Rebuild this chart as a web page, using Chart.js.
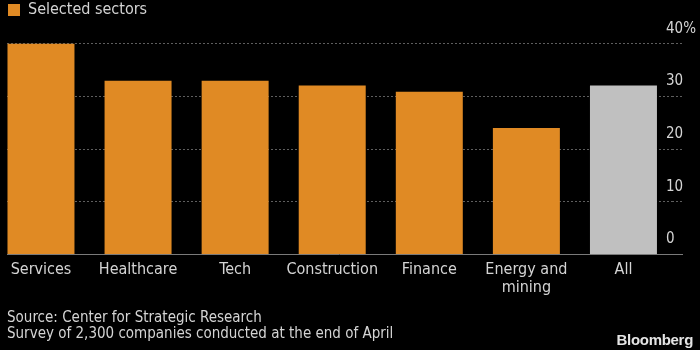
<!DOCTYPE html>
<html>
<head>
<meta charset="utf-8">
<script src="https://cdn.jsdelivr.net/npm/chart.js@4/dist/chart.umd.min.js"></script>
<style>
  body { margin: 0; background: #000; }
  #wrap { position: relative; width: 700px; height: 350px; background: #000; }
  #brand {
    position: absolute; right: 7px; top: 331px;
    font: bold 15px "Liberation Sans", Arial, sans-serif;
    color: #e4e4e4; letter-spacing: -0.3px;
  }
</style>
</head>
<body>
<div id="wrap">
  <canvas id="chart" width="700" height="350"></canvas>
  <div id="brand">Bloomberg</div>
</div>
<script>
// data
const categories = ['Services', 'Healthcare', 'Tech', 'Construction', 'Finance', ['Energy and', 'mining'], 'All'];
const shares = [40.0, 33.0, 33.0, 32.1, 30.9, 24.0, 32.1];
const yTicks = [0, 10, 20, 30, 40];
const seriesName = 'Selected sectors';
const footnotes = ['Source: Center for Strategic Research', 'Survey of 2,300 companies conducted at the end of April'];

const ORANGE = '#e08a24';
const GREY = '#c0c0c0';
const TEXT = '#d4d4d4';
const FONT = '"DejaVu Sans Condensed", "DejaVu Sans", sans-serif';

var ctx = document.getElementById('chart').getContext('2d');
var chart = new Chart(ctx, {
    type: 'bar',
    data: {
        datasets: [{
            label: seriesName,
            data: shares.map((v, i) => ({ x: i, y: v })),
            backgroundColor: c => c.dataIndex === categories.length - 1 ? GREY : ORANGE,
            borderWidth: 0,
            barPercentage: 0.69,
            categoryPercentage: 1
        }]
    },
    options: {
        responsive: false,
        animation: false,
        layout: { padding: { left: 7, top: 1, right: 0, bottom: 7.5 } },
        scales: {
            x: {
                type: 'linear',
                offset: false,
                min: -0.35,
                max: 6.5,
                grid: { display: false, drawTicks: false },
                border: { display: false },
                ticks: {
                    stepSize: 1,
                    includeBounds: false,
                    autoSkip: false,
                    maxRotation: 0,
                    padding: 6.5,
                    color: TEXT,
                    font: { family: FONT, size: 16, lineHeight: '18px' },
                    callback: v => categories[v]
                }
            },
            y: {
                position: 'right',
                min: 0,
                max: 43.0,
                // labels sit inside, above the lines: keep the axis narrow and add no top room
                afterFit: s => { s.width = 28; s.paddingTop = 0; },
                grid: {
                    color: c => c.tick && c.tick.value === 0 ? '#7a7a7a' : '#5e5e5e',
                    tickColor: c => c.tick && c.tick.value === 0 ? '#7a7a7a' : '#5e5e5e',
                    tickLength: 11,
                    tickBorderDash: c => c.tick && c.tick.value === 0 ? [] : [2, 2]
                },
                border: {
                    display: false,
                    dash: c => c.tick && c.tick.value === 0 ? [] : [2, 2]
                },
                ticks: {
                    stepSize: 10,
                    includeBounds: false,
                    mirror: true,
                    crossAlign: 'far',
                    padding: 24,
                    labelOffset: -15,
                    color: TEXT,
                    font: { family: FONT, size: 15 },
                    callback: v => yTicks.includes(v) ? (v === 40 ? v + '%' : String(v)) : null
                }
            }
        },
        plugins: {
            legend: {
                position: 'top',
                align: 'start',
                labels: {
                    padding: 1,
                    boxWidth: 12,
                    boxHeight: 12,
                    color: TEXT,
                    font: { family: FONT, size: 16 },
                    generateLabels: () => [{
                        text: seriesName, fillStyle: ORANGE, strokeStyle: ORANGE,
                        lineWidth: 0, fontColor: TEXT, hidden: false, datasetIndex: 0
                    }]
                },
                onClick: null
            },
            subtitle: {
                display: true,
                position: 'bottom',
                align: 'start',
                text: footnotes,
                color: TEXT,
                font: { family: FONT, size: 15, lineHeight: '16px' },
                padding: { top: 7, bottom: 0 }
            },
            tooltip: { enabled: false }
        }
    }
});
</script>
</body>
</html>
